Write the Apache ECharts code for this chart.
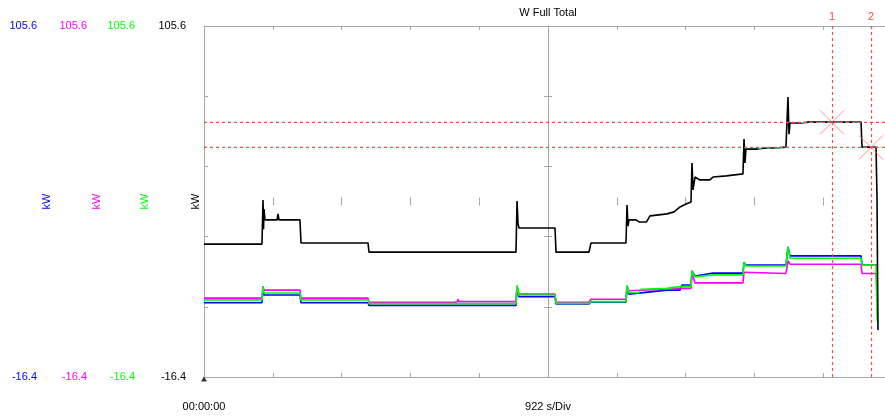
<!DOCTYPE html>
<html>
<head>
<meta charset="utf-8">
<title>W Full Total</title>
<script src="https://cdn.jsdelivr.net/npm/echarts@6/dist/echarts.min.js"></script>
<style>
  html, body { margin: 0; padding: 0; background: #fff; }
  #chart { width: 885px; height: 419px; }
</style>
</head>
<body>
<div id="chart"></div>
<script>
// 量程 / 时间轴
const yMin = -16.4;
const yMax = 105.6;
const secPerDiv = 922;
const divCount = 10;
const rangeLabels = ['105.6', '-16.4'];
const unitLabel = 'kW';
const timeStartLabel = '00:00:00';
const timeDivLabel = '922 s/Div';
const chartTitle = 'W Full Total';

// [秒, kW]
const totalW = [
  [0, 29.8], [777, 29.8], [791, 45.1], [798, 35.0], [804, 42.0], [817, 38.2],
  [980, 38.2], [992, 40.3], [1005, 38.2], [1286, 38.2], [1300, 30.2],
  [2198, 30.2], [2211, 27.0], [4181, 27.0], [4195, 44.8], [4208, 37.0],
  [4221, 35.4], [4704, 35.4], [4717, 27.0], [5159, 27.0], [5186, 30.2],
  [5655, 30.2], [5669, 43.4], [5682, 36.0], [5695, 38.2], [5790, 38.2],
  [5830, 37.5], [5930, 37.5], [5977, 39.6], [6205, 40.3], [6300, 41.0],
  [6379, 42.7], [6460, 43.7], [6526, 44.4], [6540, 58.0], [6553, 48.6],
  [6580, 53.1], [6640, 52.1], [6780, 52.1], [6821, 53.1], [7000, 53.5],
  [7223, 54.2], [7237, 66.3], [7250, 58.0], [7263, 62.8], [7400, 62.8],
  [7500, 63.1], [7700, 63.3], [7799, 63.5], [7826, 80.9], [7840, 68.0],
  [7853, 71.9], [8000, 71.9], [8100, 72.2], [8805, 72.2], [8818, 63.5],
  [9006, 63.5], [9019, 46.0], [9032, -0.1]
];
const cyanTrace = [
  [7420, 62.9], [7799, 63.5], '-', [7870, 72.0], [8805, 72.2], '-',
  [8830, 63.5], [9006, 63.5]
];
const blueW = [
  [0, 9.4], [777, 9.4], [791, 14.8], [804, 12.1], [1286, 12.1], [1300, 9.4],
  [2198, 9.4], [2211, 8.5], [4181, 8.5], [4195, 14.8], [4221, 11.5],
  [4704, 11.5], [4717, 9.0], [5159, 9.0], [5186, 9.6], [5655, 9.6],
  [5669, 14.8], [5695, 12.4], [6205, 13.8], [6379, 13.8], [6406, 15.6],
  [6526, 15.6], [6540, 20.5], [6580, 18.7], [6821, 19.7], [7223, 19.7],
  [7237, 23.5], [7263, 22.5], [7799, 22.5], [7826, 28.8], [7853, 25.7],
  [8805, 25.7], [8818, 22.5], [9032, 22.5]
];
const magentaW = [
  [0, 11.0], [777, 11.0], [791, 15.2], [804, 13.8], [1286, 13.8], [1300, 11.0],
  [2198, 11.0], [2211, 9.6], [3390, 9.6], [3404, 10.6], [3417, 9.8],
  [4181, 9.8], [4195, 15.2], [4221, 12.4], [4704, 12.4], [4717, 9.6],
  [5159, 9.6], [5186, 10.6], [5655, 10.6], [5669, 15.2], [5695, 13.6],
  [6205, 14.1], [6379, 14.4], [6526, 14.4], [6540, 19.7], [6580, 16.3],
  [7223, 16.3], [7237, 20.0], [7263, 19.6], [7799, 19.6], [7826, 24.0],
  [7853, 22.8], [8805, 22.8], [8818, 19.6], [9006, 19.6], [9019, 14.9],
  [9025, 8.6]
];
const greenW = [
  [0, 10.4], [777, 10.4], [791, 15.2], [804, 12.8], [1286, 12.8], [1300, 10.4],
  [2198, 10.4], [2211, 9.1], [4181, 9.1], [4195, 15.5], [4221, 12.1],
  [4704, 12.1], [4717, 9.2], [5159, 9.2], [5186, 9.8], [5655, 9.8],
  [5669, 15.5], [5695, 12.9], [5830, 12.9], [5857, 14.1], [6205, 14.4],
  [6379, 15.0], [6526, 15.0], [6540, 20.5], [6580, 18.4], [6821, 19.1],
  [7223, 19.1], [7237, 23.5], [7263, 22.2], [7799, 22.2], [7826, 28.8],
  [7853, 24.9], [8805, 24.9], [8818, 22.5], [9006, 22.5], [9019, 5.1],
  [9025, 2.8]
];

// 光标
const cursorTimes = [8416, 8938];
const cursorValues = [72.1, 63.4];
const cursorNames = ['1', '2'];
const startMarker = [[0, yMin]];

const traceColors = ['#0000ff', '#ff00ff', '#00ff00', '#000000'];
const labelAxisOffsets = [152, 102, 54, 3];

const FONT = 'Liberation Sans, Arial, sans-serif';
const GRID_COLOR = '#a8a8a8';
const CURSOR_COLOR = '#ff4a4a';
const xMaxSec = secPerDiv * divCount;

const chart = echarts.init(document.getElementById('chart'), null, { renderer: 'canvas' });

function divAxisX(extra) {
  return Object.assign({
    type: 'value', min: 0, max: xMaxSec, interval: secPerDiv,
    axisLine: { onZero: false, lineStyle: { color: GRID_COLOR, width: 1 } },
    axisTick: { inside: true, length: 4, lineStyle: { color: GRID_COLOR } },
    axisLabel: { show: false },
    splitLine: { show: false },
    nameMoveOverlap: false
  }, extra);
}

function divAxisY(extra) {
  return Object.assign({
    type: 'value', min: 0, max: 5, interval: 1,
    axisLine: { onZero: false, lineStyle: { color: GRID_COLOR, width: 1 } },
    axisTick: { inside: true, length: 4, lineStyle: { color: GRID_COLOR } },
    axisLabel: { show: false },
    splitLine: { show: false }
  }, extra);
}

const xAxes = [
  divAxisX({
    position: 'bottom',
    name: timeDivLabel, nameLocation: 'middle', nameGap: 24,
    nameTextStyle: { color: '#000', fontFamily: FONT, fontSize: 11 },
    axisLabel: {
      show: true, customValues: [0], margin: 24,
      color: '#000', fontFamily: FONT, fontSize: 11,
      formatter: () => timeStartLabel
    }
  }),
  divAxisX({
    position: 'top',
    name: chartTitle, nameLocation: 'middle', nameGap: 8,
    nameTextStyle: { color: '#000', fontFamily: FONT, fontSize: 11 }
  }),
  // 中心水平刻度
  divAxisX({ position: 'bottom', offset: -175.5, axisLine: { show: false, onZero: false } }),
  divAxisX({ position: 'bottom', offset: -175.5, axisLine: { show: false, onZero: false },
    axisTick: { inside: false, length: 4, lineStyle: { color: GRID_COLOR } } })
];

const yAxes = [
  { type: 'value', min: yMin, max: yMax, show: false },
  divAxisY({ position: 'left' }),
  // 中心竖线
  divAxisY({ position: 'left', offset: -344 }),
  divAxisY({ position: 'left', offset: -344, axisLine: { show: false, onZero: false },
    axisTick: { inside: false, length: 4, lineStyle: { color: GRID_COLOR } } })
];

traceColors.forEach((c, i) => {
  yAxes.push({
    type: 'value', min: yMin, max: yMax, position: 'left',
    offset: labelAxisOffsets[i],
    axisLine: { show: false, onZero: false },
    axisTick: { show: false },
    splitLine: { show: false },
    axisLabel: {
      customValues: [yMin, yMax], margin: 15,
      color: c, fontFamily: FONT, fontSize: 11,
      formatter: v => (v > 0 ? rangeLabels[0] : rangeLabels[1])
    },
    name: unitLabel, nameLocation: 'middle', nameRotate: 90, nameGap: 0,
    nameMoveOverlap: false,
    nameTextStyle: { color: c, fontFamily: FONT, fontSize: 11 }
  });
});

function trace(name, data, color, width) {
  return {
    name: name, type: 'line', data: data,
    xAxisIndex: 0, yAxisIndex: 0,
    symbol: 'none', connectNulls: false,
    lineStyle: { color: color, width: width },
    silent: true
  };
}

const cyan = trace('cyan', cyanTrace, '#33dddd', 1);
cyan.lineStyle.type = [4, 5];

const cursorLine = { color: CURSOR_COLOR, type: [3, 3], width: 1.2 };

// 水平光标线: 每条一个 series
const cursorHSeries = cursorValues.map((v, i) => {
  const s = trace('cursorH' + i, [[0, v], [xMaxSec, v]], CURSOR_COLOR, 1.2);
  s.lineStyle.type = [3, 3];
  s.z = 4;
  return s;
});

chart.setOption({
  animation: false,
  backgroundColor: '#fff',
  grid: {
    left: 204, top: 26, width: 688, height: 351,
    containLabel: false, outerBoundsMode: 'none'
  },
  xAxis: xAxes,
  yAxis: yAxes,
  series: [
    trace('blue', blueW, traceColors[0], 1.6),
    trace('magenta', magentaW, traceColors[1], 1.6),
    trace('green', greenW, traceColors[2], 1.6),
    trace('total', totalW, traceColors[3], 1.6),
    cyan,
    ...cursorHSeries,
    {
      name: 'cursor', type: 'scatter',
      xAxisIndex: 0, yAxisIndex: 0,
      data: cursorTimes.map((t, i) => [t, cursorValues[i]]),
      symbol: 'path://M0,0L10,10M10,0L0,10',
      symbolSize: 24,
      itemStyle: { color: 'transparent', borderColor: '#ff7070', borderWidth: 1 },
      silent: true,
      z: 5,
      markLine: {
        silent: true,
        animation: false,
        symbol: ['none', 'triangle'],
        symbolSize: [0, 6],
        symbolRotate: 180,
        lineStyle: cursorLine,
        label: {
          show: true, position: 'end', distance: 4,
          formatter: p => cursorNames[p.dataIndex],
          color: CURSOR_COLOR, fontFamily: FONT, fontSize: 11
        },
        data: cursorTimes.map(t => ({ xAxis: t }))
      }
    },
    {
      name: 'start', type: 'scatter',
      xAxisIndex: 0, yAxisIndex: 0,
      data: startMarker,
      symbol: 'triangle', symbolSize: [6, 5], symbolOffset: [0, 2],
      itemStyle: { color: '#000' },
      clip: false, silent: true
    }
  ]
});
</script>
</body>
</html>
